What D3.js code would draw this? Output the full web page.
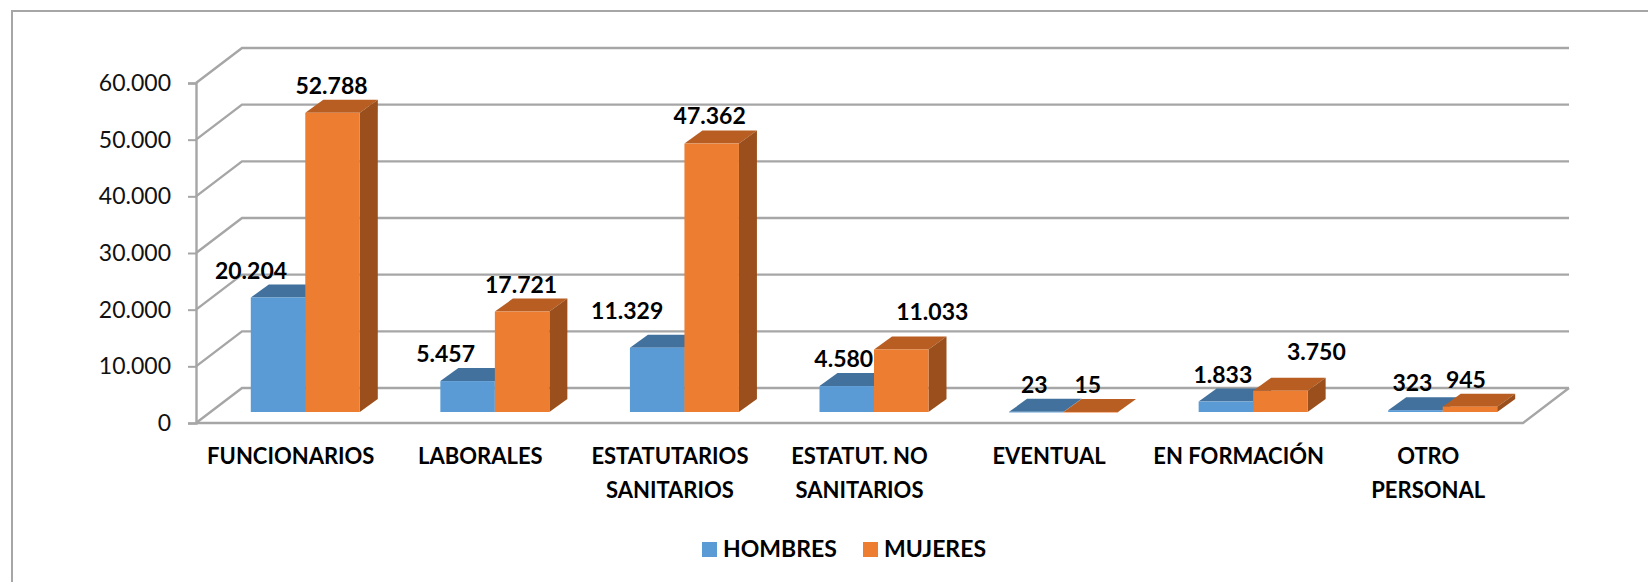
<!DOCTYPE html>
<head>
  <meta charset="utf-8">
  <style>
    body { margin: 0; background: white; }
    svg { display: block; font-family: Lato, Carlito, sans-serif; }
  </style>
</head>
<body>
  <div id="chart"></div>
  <script src="https://d3js.org/d3.v7.min.js"></script>
  <script>
    var categories = [
      ["FUNCIONARIOS"],
      ["LABORALES"],
      ["ESTATUTARIOS", "SANITARIOS"],
      ["ESTATUT. NO", "SANITARIOS"],
      ["EVENTUAL"],
      ["EN FORMACIÓN"],
      ["OTRO", "PERSONAL"]
    ];
    var hombres = [20204, 5457, 11329, 4580, 23, 1833, 323];
    var mujeres = [52788, 17721, 47362, 11033, 15, 3750, 945];
    var seriesNames = ["HOMBRES", "MUJERES"];
    var yTicks = [0, 10000, 20000, 30000, 40000, 50000, 60000];

    var width = 1648, height = 582;

    // depth of the floor and of the bars, in px
    var wallDx = 46, wallDy = -35;
    var frontDx = 14.5, frontDy = -11;
    var backDx = 32.5, backDy = -24;

    var colors = [
      { front: "#5b9bd5", top: "#41719c", side: "#335f87" },
      { front: "#ed7d31", top: "#b85e22", side: "#9a4f1c" }
    ];
    var gridColor = "#a6a6a6";

    var x = d3.scaleBand().domain(d3.range(categories.length)).range([196, 1523]);
    var y = d3.scaleLinear().domain([0, 60000]).range([423, 83]);
    var barW = 54.5;

    var es = d3.formatLocale({ decimal: ",", thousands: ".", grouping: [3], currency: ["", "€"] });
    var fmt = es.format(",d");

    var svg = d3.select("#chart").append("svg")
      .attr("width", width)
      .attr("height", height);

    // frame, open on the right and at the bottom
    svg.append("polyline")
      .attr("points", "12,582 12,11 1648,11")
      .attr("fill", "none")
      .attr("stroke", gridColor)
      .attr("stroke-width", 2);

    // walls
    var walls = svg.append("g")
      .attr("fill", "none")
      .attr("stroke", gridColor)
      .attr("stroke-width", 2.4);

    yTicks.forEach(function (t) {
      walls.append("polyline")
        .attr("points", [
          [x.range()[0], y(t)],
          [x.range()[0] + wallDx, y(t) + wallDy],
          [x.range()[1] + wallDx, y(t) + wallDy]
        ].join(" "));
    });
    // floor front edge and right edge
    walls.append("polyline")
      .attr("points", [
        [x.range()[0], y(0)],
        [x.range()[1], y(0)],
        [x.range()[1] + wallDx, y(0) + wallDy]
      ].join(" "));

    // y axis
    var yAxis = svg.append("g")
      .attr("transform", "translate(196,0)")
      .call(d3.axisLeft(y).tickValues(yTicks).tickSize(8).tickPadding(17).tickFormat(fmt));
    yAxis.select(".domain").attr("stroke", gridColor).attr("stroke-width", 2.4);
    yAxis.selectAll(".tick line").attr("stroke", gridColor).attr("stroke-width", 2);
    yAxis.selectAll("text")
      .attr("fill", "#111")
      .style("font-family", "Lato, Carlito, sans-serif")
      .style("font-size", "23px");

    function barCenter(i, s) {
      return x(i) + x.bandwidth() / 2 + frontDx + (s - 0.5) * barW;
    }

    function drawBar(g, i, v, s) {
      var x0 = barCenter(i, s) - barW / 2;
      var x1 = x0 + barW;
      var yb = y(0) + frontDy;
      var yt = y(v) + frontDy;
      var dx = backDx - frontDx, dy = backDy - frontDy;
      var c = colors[s];

      g.append("polygon") // top
        .attr("fill", c.top)
        .attr("points", [[x0, yt], [x0 + dx, yt + dy], [x1 + dx, yt + dy], [x1, yt]].join(" "));
      g.append("polygon") // side
        .attr("fill", c.side)
        .attr("points", [[x1, yt], [x1 + dx, yt + dy], [x1 + dx, yb + dy], [x1, yb]].join(" "));
      g.append("rect") // front
        .attr("fill", c.front)
        .attr("x", x0).attr("y", yt)
        .attr("width", barW).attr("height", Math.max(yb - yt, 0.6));
    }

    var bars = svg.append("g");
    categories.forEach(function (c, i) {
      drawBar(bars, i, hombres[i], 0);
      drawBar(bars, i, mujeres[i], 1);
    });

    // data labels sit just over the bar top, the hand-moved ones get a nudge
    var nudgeH = [[-27, 0], [-22, 0], [-30, -10], [-3, 0], [-2, 0], [-3, 0], [-3, 0]];
    var nudgeM = [[-1, 0], [-1, 0], [-2, -1], [31, -10], [-3, 0], [36, -12], [-4, 0]];

    function labels(values, s, nudge) {
      svg.append("g")
        .attr("font-size", "23px")
        .attr("font-weight", 700)
        .attr("fill", "#000")
        .attr("text-anchor", "middle")
        .selectAll("text")
        .data(values)
        .join("text")
        .attr("x", function (d, i) { return barCenter(i, s) + nudge[i][0]; })
        .attr("y", function (d, i) { return y(d) + backDy - 6 + nudge[i][1]; })
        .text(function (d) { return fmt(d); });
    }
    labels(hombres, 0, nudgeH);
    labels(mujeres, 1, nudgeM);

    // category labels
    var catLabels = svg.append("g")
      .attr("font-size", "22px")
      .attr("font-weight", 700)
      .attr("fill", "#000")
      .attr("text-anchor", "middle");
    categories.forEach(function (lines, i) {
      var t = catLabels.append("text").attr("y", 464);
      lines.forEach(function (line, k) {
        t.append("tspan")
          .attr("x", x(i) + x.bandwidth() / 2)
          .attr("dy", k ? 34 : 0)
          .text(line);
      });
    });

    // legend
    var legendX = d3.scaleOrdinal().domain(seriesNames).range([702, 863]);
    var legend = svg.append("g").selectAll("g")
      .data(seriesNames)
      .join("g")
      .attr("transform", function (d) { return "translate(" + legendX(d) + ",542)"; });
    legend.append("rect")
      .attr("width", 15).attr("height", 15)
      .attr("fill", function (d, i) { return colors[i].front; });
    legend.append("text")
      .attr("x", 21).attr("y", 15)
      .attr("font-size", "23px")
      .attr("font-weight", 700)
      .text(function (d) { return d; });
  </script>
</body>
